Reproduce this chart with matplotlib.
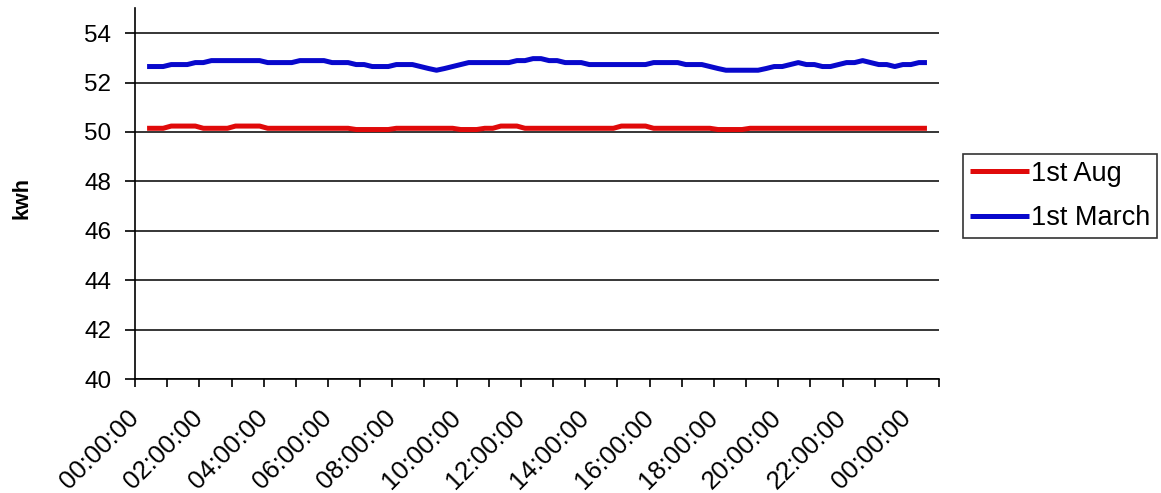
import matplotlib
matplotlib.use("Agg")
import matplotlib.pyplot as plt

plt.rcParams["font.family"] = ["Liberation Sans", "DejaVu Sans"]

# quarter-hour readings, slot 1 = 00:15 ... slot 98 = 24:30
slots = list(range(1, 99))

aug_1st = [
    50.15, 50.15, 50.15, 50.24, 50.24, 50.24, 50.24, 50.15,
    50.15, 50.15, 50.15, 50.24, 50.24, 50.24, 50.24, 50.15,
    50.15, 50.15, 50.15, 50.15, 50.15, 50.15, 50.15, 50.15,
    50.15, 50.15, 50.10, 50.10, 50.10, 50.10, 50.10, 50.15,
    50.15, 50.15, 50.15, 50.15, 50.15, 50.15, 50.15, 50.10,
    50.10, 50.10, 50.15, 50.15, 50.24, 50.24, 50.24, 50.15,
    50.15, 50.15, 50.15, 50.15, 50.15, 50.15, 50.15, 50.15,
    50.15, 50.15, 50.15, 50.24, 50.24, 50.24, 50.24, 50.15,
    50.15, 50.15, 50.15, 50.15, 50.15, 50.15, 50.15, 50.10,
    50.10, 50.10, 50.10, 50.15, 50.15, 50.15, 50.15, 50.15,
    50.15, 50.15, 50.15, 50.15, 50.15, 50.15, 50.15, 50.15,
    50.15, 50.15, 50.15, 50.15, 50.15, 50.15, 50.15, 50.15,
    50.15, 50.15,
]

march_1st = [
    52.65, 52.65, 52.65, 52.73, 52.73, 52.73, 52.81, 52.81,
    52.89, 52.89, 52.89, 52.89, 52.89, 52.89, 52.89, 52.81,
    52.81, 52.81, 52.81, 52.89, 52.89, 52.89, 52.89, 52.81,
    52.81, 52.81, 52.73, 52.73, 52.65, 52.65, 52.65, 52.73,
    52.73, 52.73, 52.65, 52.57, 52.50, 52.57, 52.65, 52.73,
    52.81, 52.81, 52.81, 52.81, 52.81, 52.81, 52.89, 52.89,
    52.97, 52.97, 52.89, 52.89, 52.81, 52.81, 52.81, 52.73,
    52.73, 52.73, 52.73, 52.73, 52.73, 52.73, 52.73, 52.81,
    52.81, 52.81, 52.81, 52.73, 52.73, 52.73, 52.65, 52.57,
    52.50, 52.50, 52.50, 52.50, 52.50, 52.57, 52.65, 52.65,
    52.73, 52.81, 52.73, 52.73, 52.65, 52.65, 52.73, 52.81,
    52.81, 52.89, 52.81, 52.73, 52.73, 52.65, 52.73, 52.73,
    52.81, 52.81,
]

time_labels = [
    "00:00:00", "02:00:00", "04:00:00", "06:00:00", "08:00:00",
    "10:00:00", "12:00:00", "14:00:00", "16:00:00", "18:00:00",
    "20:00:00", "22:00:00", "00:00:00",
]

fig = plt.figure(figsize=(11.61, 4.93), dpi=100)
ax = fig.add_axes([0.1163, 0.2312, 0.6925, 0.7516])

ax.plot(slots, aug_1st, color="#e00a0a", linewidth=3.6, label="1st Aug",
        solid_capstyle="butt", zorder=3)
ax.plot(slots, march_1st, color="#0808cc", linewidth=3.6, label="1st March",
        solid_capstyle="butt", zorder=3)

# category axis: 100 quarter-hour slots, tick every hour, label every 2 hours
ax.set_xlim(-0.5, 99.5)
ax.set_xticks([-0.5 + 8 * i for i in range(len(time_labels))])
ax.set_xticks([-0.5 + 4 * i for i in range(26)], minor=True)
ax.set_xticklabels(time_labels, rotation=45, ha="right", va="center",
                   rotation_mode="anchor", fontsize=18.5)
ax.tick_params(axis="x", which="both", direction="out", length=6,
               width=1.2, color="black")
ax.tick_params(axis="x", which="major", pad=19)

ax.set_ylim(40, 55)
ax.set_yticks(range(40, 55, 2))
ax.tick_params(axis="y", direction="out", length=7, width=1.2,
               labelsize=17.5, pad=10)
ax.grid(axis="y", color="black", linewidth=1.1, zorder=1)
ax.set_axisbelow(True)

ax.spines["top"].set_visible(False)
ax.spines["right"].set_visible(False)
ax.spines["left"].set_linewidth(1.2)
ax.spines["bottom"].set_linewidth(1.2)

fig.text(0.019, 0.598, "kwh", rotation=90, fontsize=15.5, fontweight="bold",
         ha="center", va="center")

leg = ax.legend(loc="center left", bbox_to_anchor=(963 / 1161, 297 / 493),
                bbox_transform=fig.transFigure, fontsize=19.5, frameon=True,
                fancybox=False, edgecolor="black", borderaxespad=0,
                handlelength=2.2, handletextpad=0.05, labelspacing=0.68,
                borderpad=0.25)
leg.get_frame().set_linewidth(1.2)

fig.savefig("out.png", dpi=100, facecolor="white")
